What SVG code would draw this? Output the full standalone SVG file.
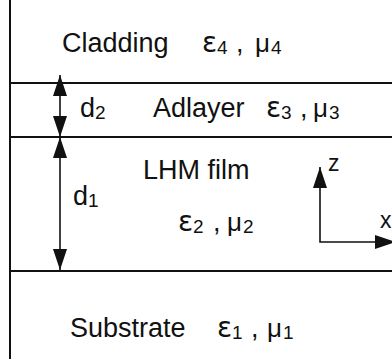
<svg xmlns="http://www.w3.org/2000/svg" width="392" height="363" viewBox="0 0 392 363">
<style>
.ln{stroke:#111;stroke-width:2;fill:none}
.ar{stroke:#111;stroke-width:1.6;fill:none}
.t{font-family:"Liberation Sans",Arial,sans-serif;font-size:27px;fill:#111}
.g{font-family:"DejaVu Sans","Liberation Sans",sans-serif;font-size:28px;fill:#111}
.m{font-family:"Liberation Sans",Arial,sans-serif;font-size:26px;fill:#111}
.s{font-family:"Liberation Sans",Arial,sans-serif;font-size:19px;fill:#111}
</style>
<defs>
<marker id="ah" viewBox="0 0 21 14" refX="21" refY="7" markerWidth="21" markerHeight="14" markerUnits="userSpaceOnUse" orient="auto-start-reverse">
<path d="M0,0 L21,7 L0,14 Z" fill="#111"/>
</marker>
</defs>
<rect width="392" height="363" fill="#fff"/>
<g id="layers">
<line class="ln" x1="10" y1="0" x2="10" y2="359"/>
<line class="ln" x1="10" y1="83" x2="392" y2="83"/>
<line class="ln" x1="10" y1="137" x2="392" y2="137"/>
<line class="ln" x1="10" y1="271" x2="392" y2="271"/>
</g>
<g id="cladding">
<text class="t" x="62" y="52">Cladding</text>
<text class="g" x="202" y="52">ε</text><text class="s" x="217" y="54">4</text>
<text class="t" x="236" y="52">,</text>
<text class="m" x="255" y="52">μ</text><text class="s" x="271" y="54">4</text>
</g>
<g id="adlayer">
<text class="t" x="80" y="117">d</text><text class="s" x="95" y="119">2</text>
<text class="t" x="153" y="117">Adlayer</text>
<text class="g" x="266" y="117">ε</text><text class="s" x="281" y="119">3</text>
<text class="t" x="300" y="117">,</text>
<text class="m" x="313" y="117">μ</text><text class="s" x="329" y="119">3</text>
</g>
<g id="film">
<text class="t" x="143" y="179">LHM film</text>
<text class="t" x="73" y="205">d</text><text class="s" x="88" y="207">1</text>
<text class="g" x="178" y="231">ε</text><text class="s" x="193" y="233">2</text>
<text class="t" x="213" y="231">,</text>
<text class="m" x="227" y="231">μ</text><text class="s" x="243" y="233">2</text>
</g>
<g id="substrate">
<text class="t" x="70" y="337">Substrate</text>
<text class="g" x="217" y="337">ε</text><text class="s" x="232" y="339">1</text>
<text class="t" x="251" y="337">,</text>
<text class="m" x="267" y="337">μ</text><text class="s" x="283" y="339">1</text>
</g>
<g id="axes">
<text class="t" x="328" y="171" style="font-size:23px">z</text>
<text class="t" x="380" y="228" style="font-size:23px">x</text>
</g>
<g id="connectors">
<line class="ar" x1="60" y1="75" x2="60" y2="137" marker-start="url(#ah)" marker-end="url(#ah)"/>
<line class="ar" x1="60" y1="137" x2="60" y2="270" marker-start="url(#ah)" marker-end="url(#ah)"/>
<polyline class="ar" points="320,167 320,242 396,242" marker-start="url(#ah)" marker-end="url(#ah)"/>
</g>
</svg>
